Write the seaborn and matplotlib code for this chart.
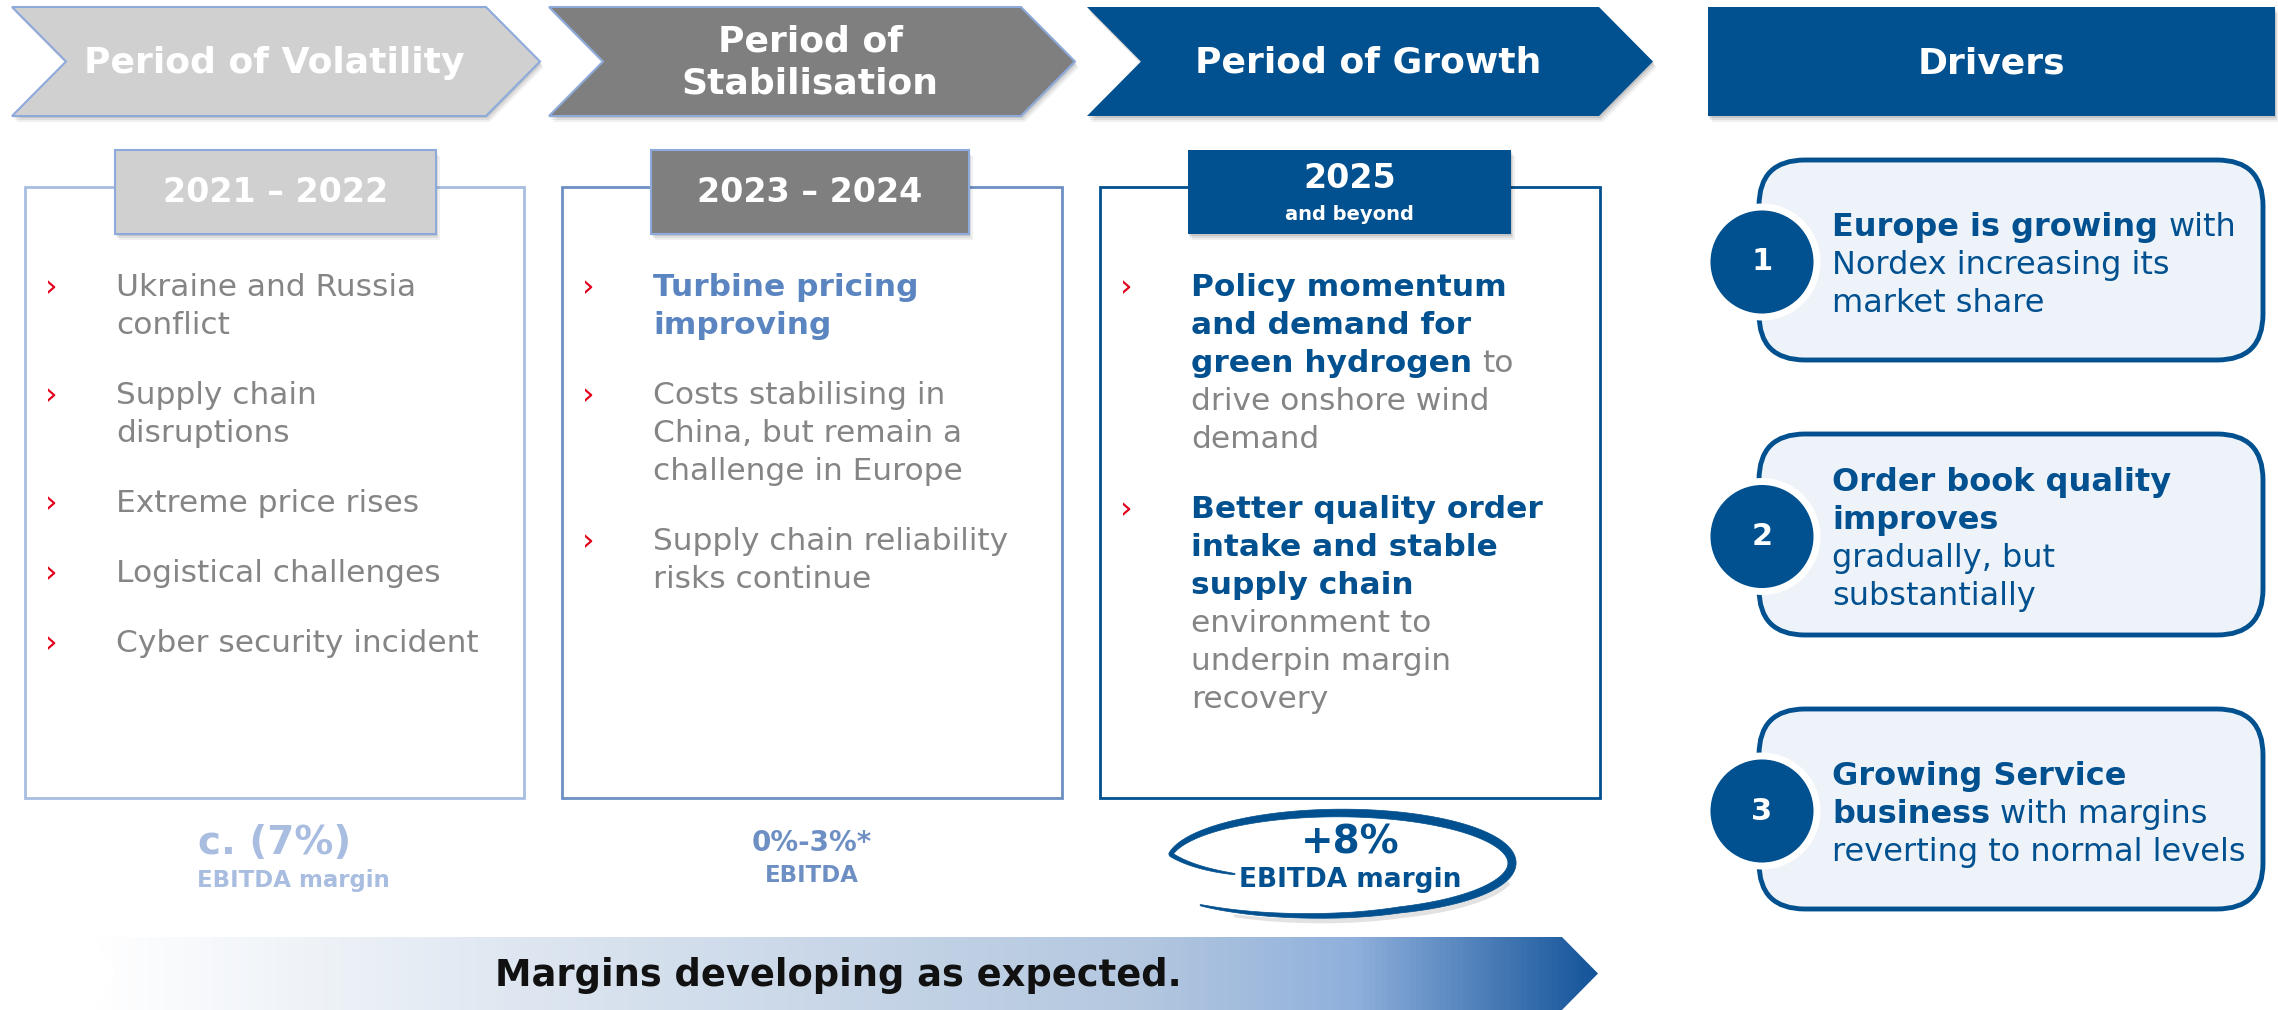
import numpy as np
import matplotlib
matplotlib.use("Agg")
import matplotlib.pyplot as plt
import seaborn as sns
from matplotlib.patches import Polygon, Rectangle, FancyBboxPatch, Circle
from matplotlib.colors import LinearSegmentedColormap

sns.set_theme(style="white")
plt.rcParams['font.family'] = ['DejaVu Sans']

# ---- content ----
phases = ["Period of Volatility", "Period of\nStabilisation", "Period of Growth"]
years = ["2021 – 2022", "2023 – 2024", "2025"]
year_sub = ["", "", "and beyond"]
margin_big = ["c. (7%)", "0%-3%*", "+8%"]
margin_small = ["EBITDA margin", "EBITDA", "EBITDA margin"]

# each bullet = list of lines, each line = list of (text, style)
bullets_volatility = [
    [[("Ukraine and Russia", "g")], [("conflict", "g")]],
    [[("Supply chain", "g")], [("disruptions", "g")]],
    [[("Extreme price rises", "g")]],
    [[("Logistical challenges", "g")]],
    [[("Cyber security incident", "g")]],
]
bullets_stabilisation = [
    [[("Turbine pricing", "m")], [("improving", "m")]],
    [[("Costs stabilising in", "g")], [("China, but remain a", "g")], [("challenge in Europe", "g")]],
    [[("Supply chain reliability", "g")], [("risks continue", "g")]],
]
bullets_growth = [
    [[("Policy momentum", "b")], [("and demand for", "b")], [("green hydrogen", "b"), ("to", "g")],
     [("drive onshore wind", "g")], [("demand", "g")]],
    [[("Better quality order", "b")], [("intake and stable", "b")], [("supply chain", "b")],
     [("environment to", "g")], [("underpin margin", "g")], [("recovery", "g")]],
]
drivers_title = "Drivers"
driver_nums = ["1", "2", "3"]
drivers = [
    [[("Europe is growing", "b"), ("with", "n")], [("Nordex increasing its", "n")], [("market share", "n")]],
    [[("Order book quality", "b")], [("improves", "b")], [("gradually, but", "n")], [("substantially", "n")]],
    [[("Growing Service", "b")], [("business", "b"), ("with margins", "n")], [("reverting to normal levels", "n")]],
]
arrow_text = "Margins developing as expected."

# ---- styling ----
BLUE = "#01508f"
DGREY = "#7f7f7f"
LGREY = "#d0d0d0"
EDGE = "#8eaadb"
RED = "#e2001a"
phase_fill = [LGREY, DGREY, BLUE]
box_edge = ["#a9bde0", "#6e8fc4", BLUE]
margin_col = ["#a9bde0", "#6e8fc4", BLUE]
STYLES = {"g": ("normal", "#858585"), "b": ("bold", BLUE), "m": ("bold", "#5b85c1"), "n": ("normal", BLUE)}
FS = 22.5
LINE = 38
BGAP = 70

W, H = 2278, 1010
fig = plt.figure(figsize=(W / 100, H / 100), dpi=100)
ax = fig.add_axes([0, 0, 1, 1])
ax.set_xlim(0, W)
ax.set_ylim(H, 0)
ax.axis("off")
renderer = fig.canvas.get_renderer()


def shadow_poly(pts, z):
    for k, a in [(6, 0.06), (4, 0.08), (2, 0.10)]:
        sp = [(x + k * 0.6, y + k) for x, y in pts]
        ax.add_patch(Polygon(sp, closed=True, fc="black", ec="none", alpha=a, zorder=z))


def rect_pts(x0, y0, x1, y1):
    return [(x0, y0), (x1, y0), (x1, y1), (x0, y1)]


def draw_line(x, y, segs, size):
    for txt, st in segs:
        w, c = STYLES[st]
        t = ax.text(x, y, txt, fontsize=size, fontweight=w, color=c, ha="left", va="center_baseline", zorder=6)
        bb = t.get_window_extent(renderer)
        x = ax.transData.inverted().transform((bb.x1, bb.y0))[0] + size * 0.45


def stroke_outline(px, py, half):
    dx = np.gradient(px)
    dy = np.gradient(py)
    n = np.hypot(dx, dy)
    nx, ny = -dy / n, dx / n
    outer = np.column_stack([px + nx * half, py + ny * half])
    inner = np.column_stack([px - nx * half, py - ny * half])
    return np.vstack([outer, inner[::-1]])


# ---- header chevrons ----
cy0, cy1 = 7, 116
cym = (cy0 + cy1) / 2
chev_x = [(12, 540), (549, 1075), (1087, 1653)]
notch = 54
for i, (x0, x1) in enumerate(chev_x):
    pts = [(x0, cy0), (x1 - notch, cy0), (x1, cym), (x1 - notch, cy1), (x0, cy1), (x0 + notch, cym)]
    shadow_poly(pts, 1)
    ax.add_patch(Polygon(pts, closed=True, fc=phase_fill[i], ec=EDGE if i < 2 else "none", lw=1.5, zorder=2))
    ax.text((x0 + x1) / 2 - 2, cym + 1, phases[i], color="white", fontsize=26, fontweight="bold",
            ha="center", va="center", linespacing=1.28, zorder=3)

dpts = rect_pts(1708, cy0, 2275, cy1)
shadow_poly(dpts, 1)
ax.add_patch(Polygon(dpts, closed=True, fc=BLUE, ec="none", zorder=2))
ax.text((1708 + 2275) / 2, cym + 2, drivers_title, color="white", fontsize=26, fontweight="bold",
        ha="center", va="center", zorder=3)

# ---- period boxes ----
box_x = [(25, 524), (562, 1062), (1100, 1600)]
tab_x = [(115, 436), (651, 969), (1188, 1511)]
by0, by1 = 187, 798
ty0, ty1 = 150, 234
all_bullets = [bullets_volatility, bullets_stabilisation, bullets_growth]
for i in range(3):
    x0, x1 = box_x[i]
    ax.add_patch(Rectangle((x0, by0), x1 - x0, by1 - by0, fc="white", ec=box_edge[i], lw=2, zorder=2))
    tx0, tx1 = tab_x[i]
    tp = rect_pts(tx0, ty0, tx1, ty1)
    shadow_poly(tp, 3)
    ax.add_patch(Polygon(tp, closed=True, fc=phase_fill[i], ec=EDGE if i < 2 else "none", lw=1.5, zorder=4))
    if year_sub[i]:
        ax.text((tx0 + tx1) / 2, 179, years[i], color="white", fontsize=24, fontweight="bold",
                ha="center", va="center", zorder=5)
        ax.text((tx0 + tx1) / 2, 215, year_sub[i], color="white", fontsize=14, fontweight="bold",
                ha="center", va="center", zorder=5)
    else:
        ax.text((tx0 + tx1) / 2, 193, years[i], color="white", fontsize=24, fontweight="bold",
                ha="center", va="center", zorder=5)

    y = 285
    for bullet in all_bullets[i]:
        ax.text(x0 + 20, y, "›", color=RED, fontsize=FS, ha="left", va="center_baseline", zorder=6)
        for line in bullet:
            draw_line(x0 + 91, y, line, FS)
            y += LINE
        y += BGAP - LINE

    # margins below
    cx = (x0 + x1) / 2
    big_fs = [28, 20, 28][i]
    small_fs = [16.5, 16.5, 19][i]
    ax.text(cx, 843, margin_big[i], color=margin_col[i], fontsize=big_fs, fontweight="bold",
            ha="center", va="center", zorder=6)
    ax.text(cx + (19 if i == 0 else 0), 880 - (4 if i == 1 else 0), margin_small[i], color=margin_col[i],
            fontsize=small_fs, fontweight="bold", ha="center", va="center", zorder=6)

# hand-drawn swoosh around +8% (spiral stroke, tapered at the ends), drawn as one filled outline
th = np.radians(np.linspace(160, 497, 600))
tt = (th - th[0]) / (th[-1] - th[0])
scale = np.clip(0.65 + (th - th[0]) / np.radians(30) * 0.35, 0, 1.0)
sx = 1340 + 172 * scale * np.cos(th) - 14 * np.clip(tt - 0.85, 0, 1) / 0.15
sy = 863 + 50 * scale * np.sin(th) + 8 * np.clip(tt - 0.8, 0, 1) / 0.2
half = 0.6 + 3.6 * np.sin(np.pi * tt) ** 0.7
low = (np.degrees(th) > 375) & (np.degrees(th) < 485)
ax.add_patch(Polygon(stroke_outline(sx[low] + 2, sy[low] + 5, half[low]), closed=True,
                     fc="#e2e2e2", ec="none", zorder=5))
ax.add_patch(Polygon(stroke_outline(sx, sy, half), closed=True, fc=BLUE, ec=BLUE, lw=0.5, zorder=6))

# ---- drivers ----
dbox = [(160, 360), (434, 635), (709, 909)]
for i, (y0, y1) in enumerate(dbox):
    ax.add_patch(FancyBboxPatch((1759, y0), 2263 - 1759, y1 - y0, boxstyle="round,pad=0,rounding_size=46",
                                fc="#eef3fa", ec=BLUE, lw=3.5, zorder=2))
    cyc = (y0 + y1) / 2 + 2
    ax.add_patch(Circle((1762, cyc), 55, fc=BLUE, ec="white", lw=5, zorder=4))
    ax.text(1762, cyc, driver_nums[i], color="white", fontsize=22, fontweight="bold",
            ha="center", va="center", zorder=5)
    n = len(drivers[i])
    yl = cyc - (n - 1) * LINE / 2
    for line in drivers[i]:
        draw_line(1832, yl, line, 23)
        yl += LINE

# ---- bottom gradient arrow ----
ay0, ay1 = 937, 1010
ax0, ax1 = 94, 1598
apts = [(ax0, ay0), (ax1 - 36, ay0), (ax1, (ay0 + ay1) / 2), (ax1 - 36, ay1), (ax0, ay1), (ax0 + 22, (ay0 + ay1) / 2)]
cmap = LinearSegmentedColormap.from_list("grad", [(0, "#ffffff"), (0.3, "#dce5f0"), (0.7, "#b3c7df"),
                                                   (0.84, "#8fb0dc"), (1.0, "#14549a")])
grad = np.linspace(0, 1, 512).reshape(1, -1)
im = ax.imshow(grad, cmap=cmap, extent=[ax0, ax1, ay1, ay0], aspect="auto", zorder=2)
clip = Polygon(apts, closed=True, transform=ax.transData, fc="none", ec="none")
ax.add_patch(clip)
im.set_clip_path(clip)
ax.set_xlim(0, W)
ax.set_ylim(H, 0)
ax.text(838, 976, arrow_text, color="#111111", fontsize=26.5, fontweight="bold", ha="center", va="center", zorder=5)

fig.savefig("out.png", dpi=100)
